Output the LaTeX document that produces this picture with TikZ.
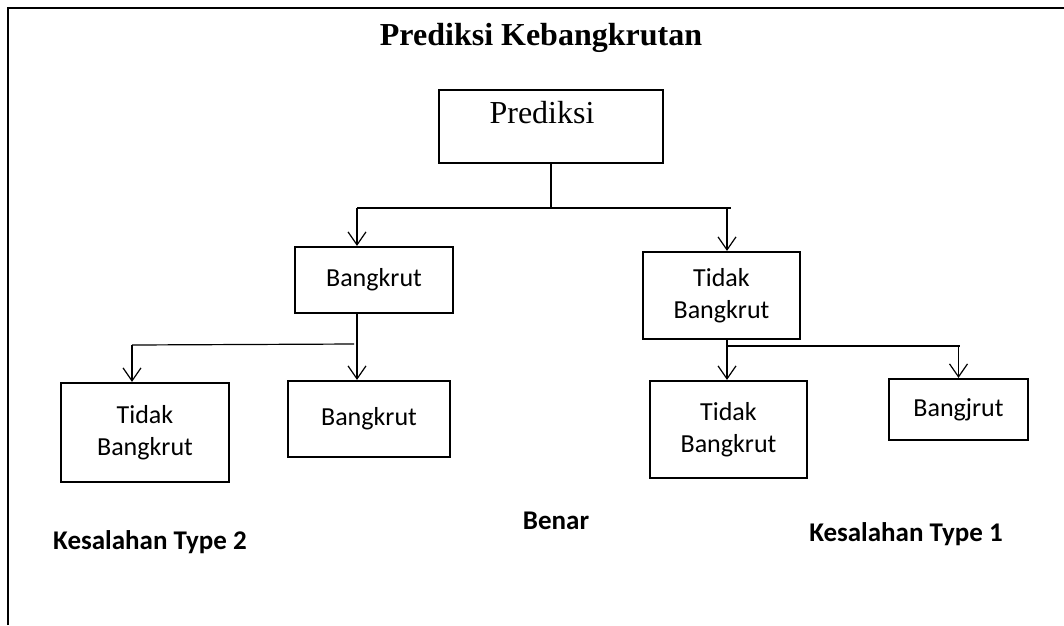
\documentclass[tikz,border=0pt]{standalone}
\usepackage{fontspec}
\setmainfont{Carlito}
\newfontfamily\titlefont{Liberation Serif}
\usetikzlibrary{arrows.meta}

\tikzset{
	box/.style={draw, line width=2.2pt, align=center, font=\fontsize{26}{32}\selectfont},
	link/.style={line width=1.2pt},
	bar/.style={line width=2pt},
	note/.style={font=\bfseries\fontsize{27}{32}\selectfont},
	>={Straight Barb[length=13pt,width=18pt]}
}

\begin{document}
\begin{tikzpicture}[x=1pt,y=-1pt]
	\useasboundingbox (0,0) rectangle (1064,625);
	\draw[line width=2pt] (8,625) -- (8,8) -- (1064,8);
	\node[font=\titlefont\bfseries\fontsize{32}{38}\selectfont] (title) at (541,38) {Prediksi Kebangkrutan};
	% top box
	\node[box, anchor=north, inner ysep=0pt, text height=33pt, text depth=40pt, minimum width=224pt, font=\titlefont\fontsize{32}{38}\selectfont] (pred) at (551,89) {Prediksi\hspace*{18pt}};
	% second level
	\node[box, minimum width=158pt, minimum height=66pt] (bk) at (374,280) {Bangkrut};
	\node[box, minimum width=157pt, minimum height=87pt] (tb) at (721.5,295.5) {Tidak\\Bangkrut};
	% third level
	\node[box, minimum width=168pt, minimum height=99pt] (tbL) at (145,432.5) {Tidak\\Bangkrut};
	\node[box, minimum width=162pt, minimum height=76pt] (bkL) at (369,419) {Bangkrut};
	\node[box, minimum width=157pt, minimum height=97pt] (tbR) at (728.5,429.5) {Tidak\\Bangkrut};
	\node[box, minimum width=139pt, minimum height=61pt] (bjR) at (958.5,409.5) {Bangjrut};
	% connectors
	\coordinate (hubL) at (357,208);
	\coordinate (hubR) at (731,208);
	\coordinate (dropR) at (727,208);
	\coordinate (splitL) at (132,345);
	\coordinate (splitR) at (960,346);
	\draw[link] (pred.south) -- (pred.south |- hubL);
	\draw[bar] (hubL) -- (hubR);
	\draw[link,->] (hubL) -- (hubL |- bk.north);
	\draw[link,->] (dropR) -- (dropR |- tb.north);
	\draw[link,->] (hubL |- bk.south) -- (hubL |- bkL.north);
	\draw[link] (354,344) -- (splitL);
	\draw[link,->] (splitL) -- (splitL |- tbL.north);
	\draw[link,->] (dropR |- tb.south) -- (dropR |- tbR.north);
	\draw[bar] (dropR |- splitR) -- (splitR);
	\draw[link,->] (bjR.north |- splitR) -- (bjR.north);
	% outcomes
	\node[note] (type2) at (150,542) {Kesalahan Type 2};
	\node[note] (benar) at (556,521) {Benar};
	\node[note] (type1) at (906,534) {Kesalahan Type 1};
\end{tikzpicture}
\end{document}
